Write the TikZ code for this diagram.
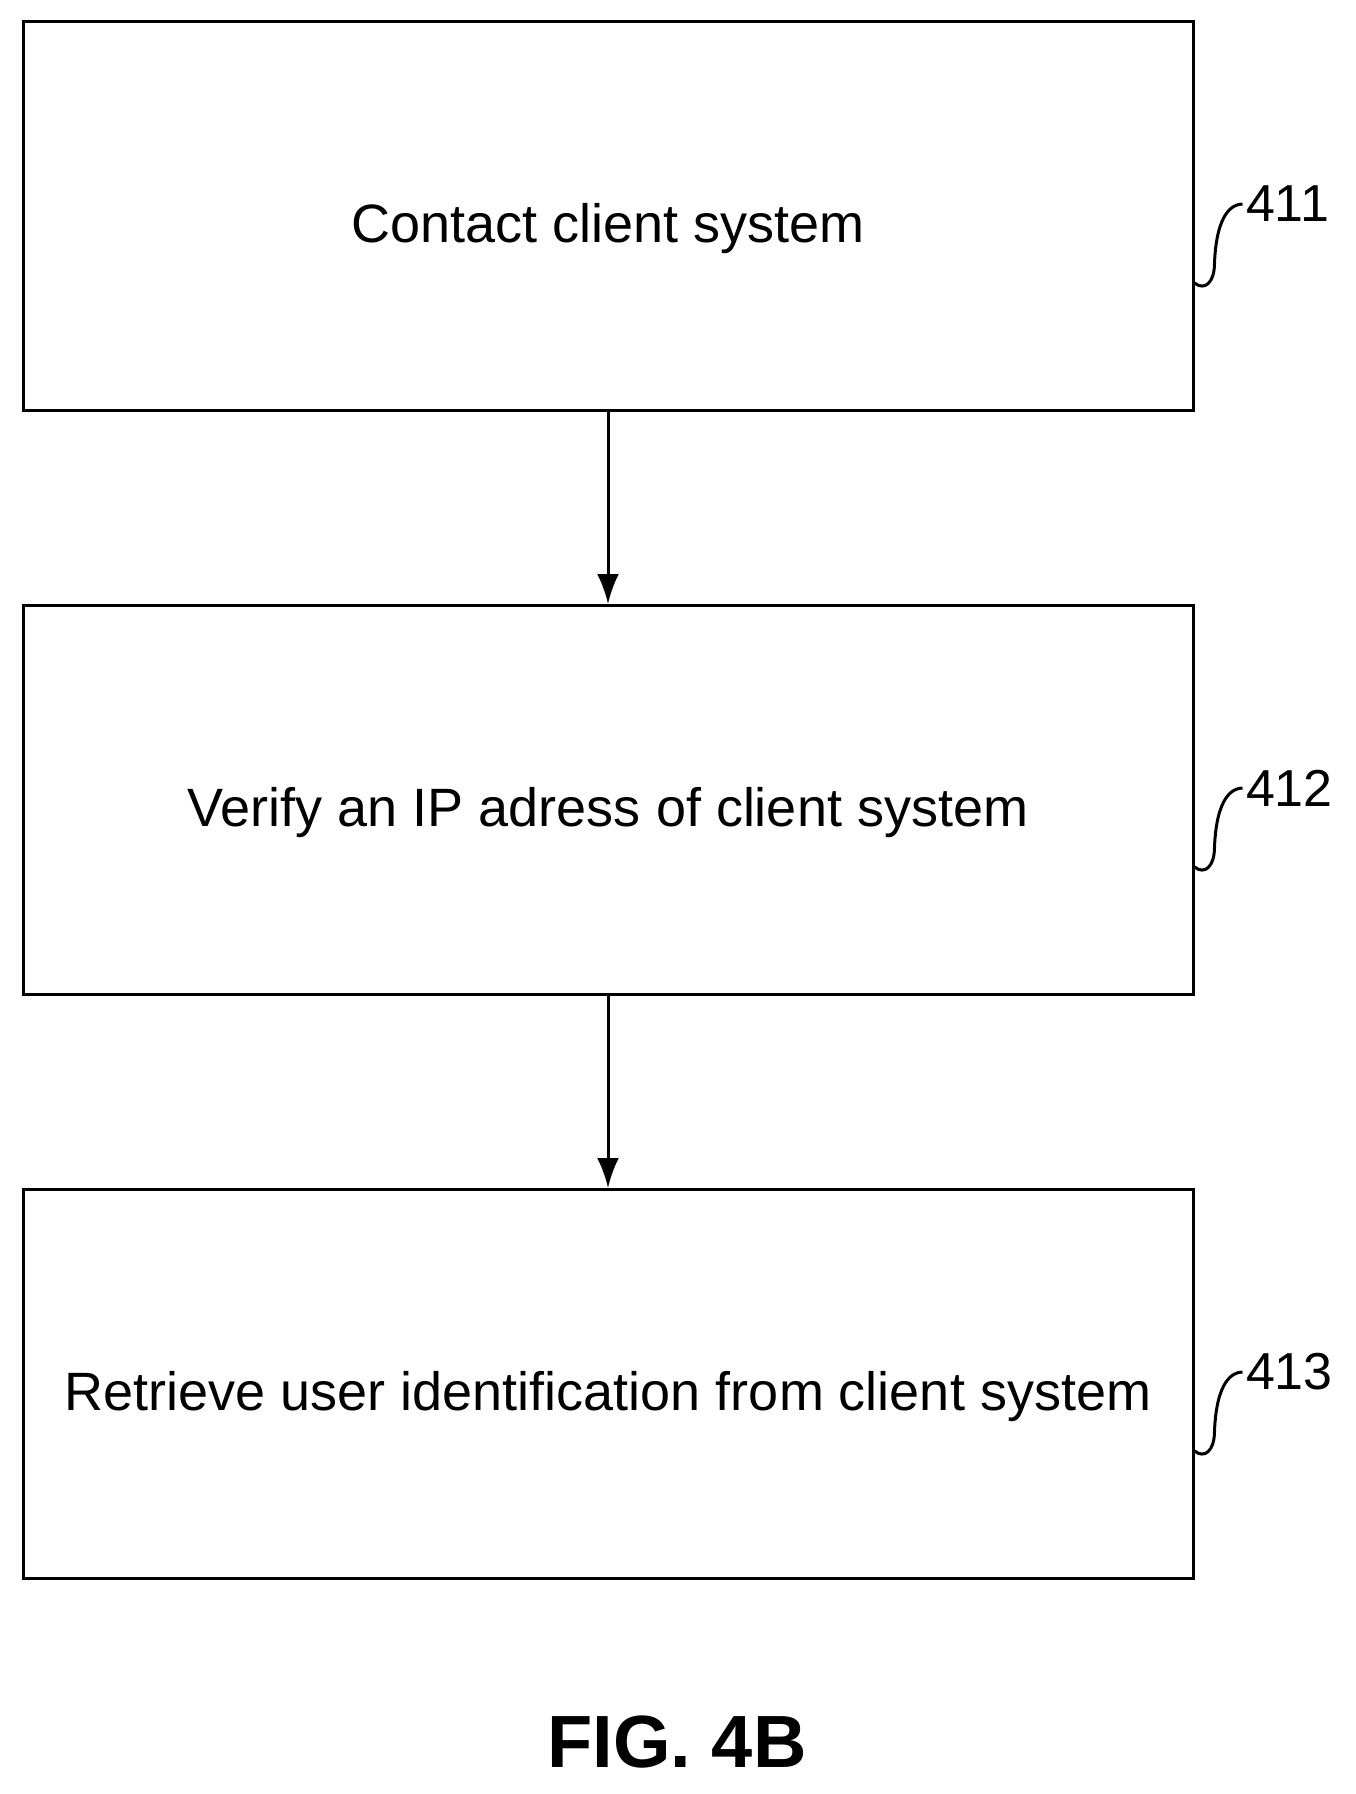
\documentclass[tikz,border=0pt]{standalone}
\usepackage{fontspec}
\setmainfont{Liberation Sans}
\usetikzlibrary{positioning,arrows.meta}
\begin{document}
\begin{tikzpicture}[x=1pt,y=-1pt,
    stepbox/.style={rectangle, draw=black, line width=3pt, minimum width=1170pt, minimum height=389pt, text depth=0pt, font=\fontsize{54}{58}\selectfont},
    ref/.style={anchor=west, font=\fontsize{52}{56}\selectfont},
    flow/.style={-{Latex[length=30pt,width=22pt]}, line width=3pt}]
    \useasboundingbox (0,0) rectangle (1355,1794);
    \node[stepbox] (contact) at (608,216) {\raisebox{-14pt}{Contact client system}};
    \node[stepbox, below=192pt of contact] (verify) {\raisebox{-14pt}{Verify an IP adress of client system}};
    \node[stepbox, below=192pt of verify] (retrieve) {\raisebox{-14pt}{Retrieve user identification from client system}};

    \draw[flow] (contact) to (verify);
    \draw[flow] (verify) to (retrieve);

    % reference numerals
    \foreach \name/\num in {contact/411, verify/412, retrieve/413} {
      \node[ref] (l\num) at ([xshift=48pt,yshift=12pt]\name.east) {\num};
      \draw[line width=3pt] ([yshift=-67pt]\name.east) .. controls +(10,8) and +(0,20) .. +(20,-20) .. controls +(2,-50) and +(-10,0) .. (l\num.west);
    }

    \node[font=\bfseries\fontsize{74}{80}\selectfont] (fig) at (677,1742) {FIG. 4B};
\end{tikzpicture}
\end{document}
